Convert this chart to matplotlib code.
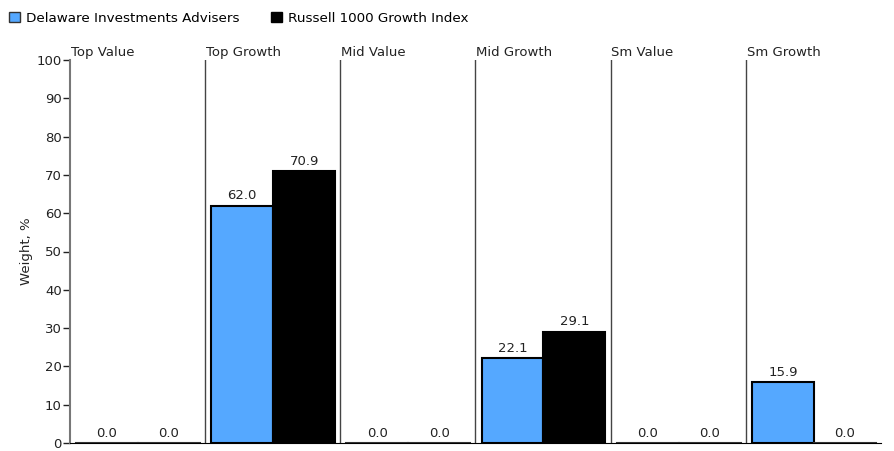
import matplotlib.pyplot as plt
import numpy as np
from matplotlib.patches import Patch

styles = ["Top Value", "Top Growth", "Mid Value", "Mid Growth", "Sm Value", "Sm Growth"]
delaware = [0.0, 62.0, 0.0, 22.1, 0.0, 15.9]
russell = [0.0, 70.9, 0.0, 29.1, 0.0, 0.0]
series_names = ["Delaware Investments Advisers", "Russell 1000 Growth Index"]
yticks = list(range(0, 101, 10))

blue = "#55a8ff"
plt.rcParams['font.family'] = "DejaVu Sans"
fs = 9.5

fig = plt.figure(figsize=(8.95, 4.51), dpi=100)
ax = fig.add_axes([70 / 895, 8 / 451, 811 / 895, 383 / 451])

bw = 0.458
gap = 0.045
for i, (d, r) in enumerate(zip(delaware, russell)):
    for j, (v, c) in enumerate([(d, blue), (r, "black")]):
        left = i + gap + j * bw
        if v > 0:
            ax.bar(left, v, width=bw, align='edge', color=c, edgecolor='black', linewidth=1.5, zorder=3)
        else:
            ax.plot([left, left + bw], [0, 0], color='#333333', linewidth=1.5, zorder=3)
        ax.text(left + bw / 2, v + 0.8, f"{v:.1f}", ha='center', va='bottom', fontsize=fs, color='#222222')

# group separators and headers
for i, name in enumerate(styles):
    if i > 0:
        ax.axvline(i, color='#444444', linewidth=1, zorder=2)
    ax.text(i + 0.005, 100.2, name, ha='left', va='bottom', fontsize=fs, color='#222222')

ax.set_xlim(0, len(styles))
ax.set_ylim(0, 100)
ax.set_yticks(yticks)
ax.set_xticks([])
ax.tick_params(axis='y', length=5, width=1, labelsize=fs, pad=1, colors='#222222')
for s in ['top', 'right']:
    ax.spines[s].set_visible(False)
ax.spines['left'].set_color('#777777')
ax.spines['left'].set_linewidth(1.5)
ax.spines['bottom'].set_color('black')
ax.set_ylabel("Weight, %", fontsize=fs, color='#222222')
ax.yaxis.set_label_coords(-0.046, 0.5)

# legend
handles = [Patch(facecolor=blue, edgecolor='#333333'), Patch(facecolor='black', edgecolor='black')]
fig.legend(handles, series_names, loc='upper left', bbox_to_anchor=(0.0, 0.995), ncol=2,
           frameon=False, fontsize=9.7, handlelength=0.8, handleheight=0.8,
           handletextpad=0.4, columnspacing=2.4, borderaxespad=0.3)

fig.savefig("out.png", dpi=100)
